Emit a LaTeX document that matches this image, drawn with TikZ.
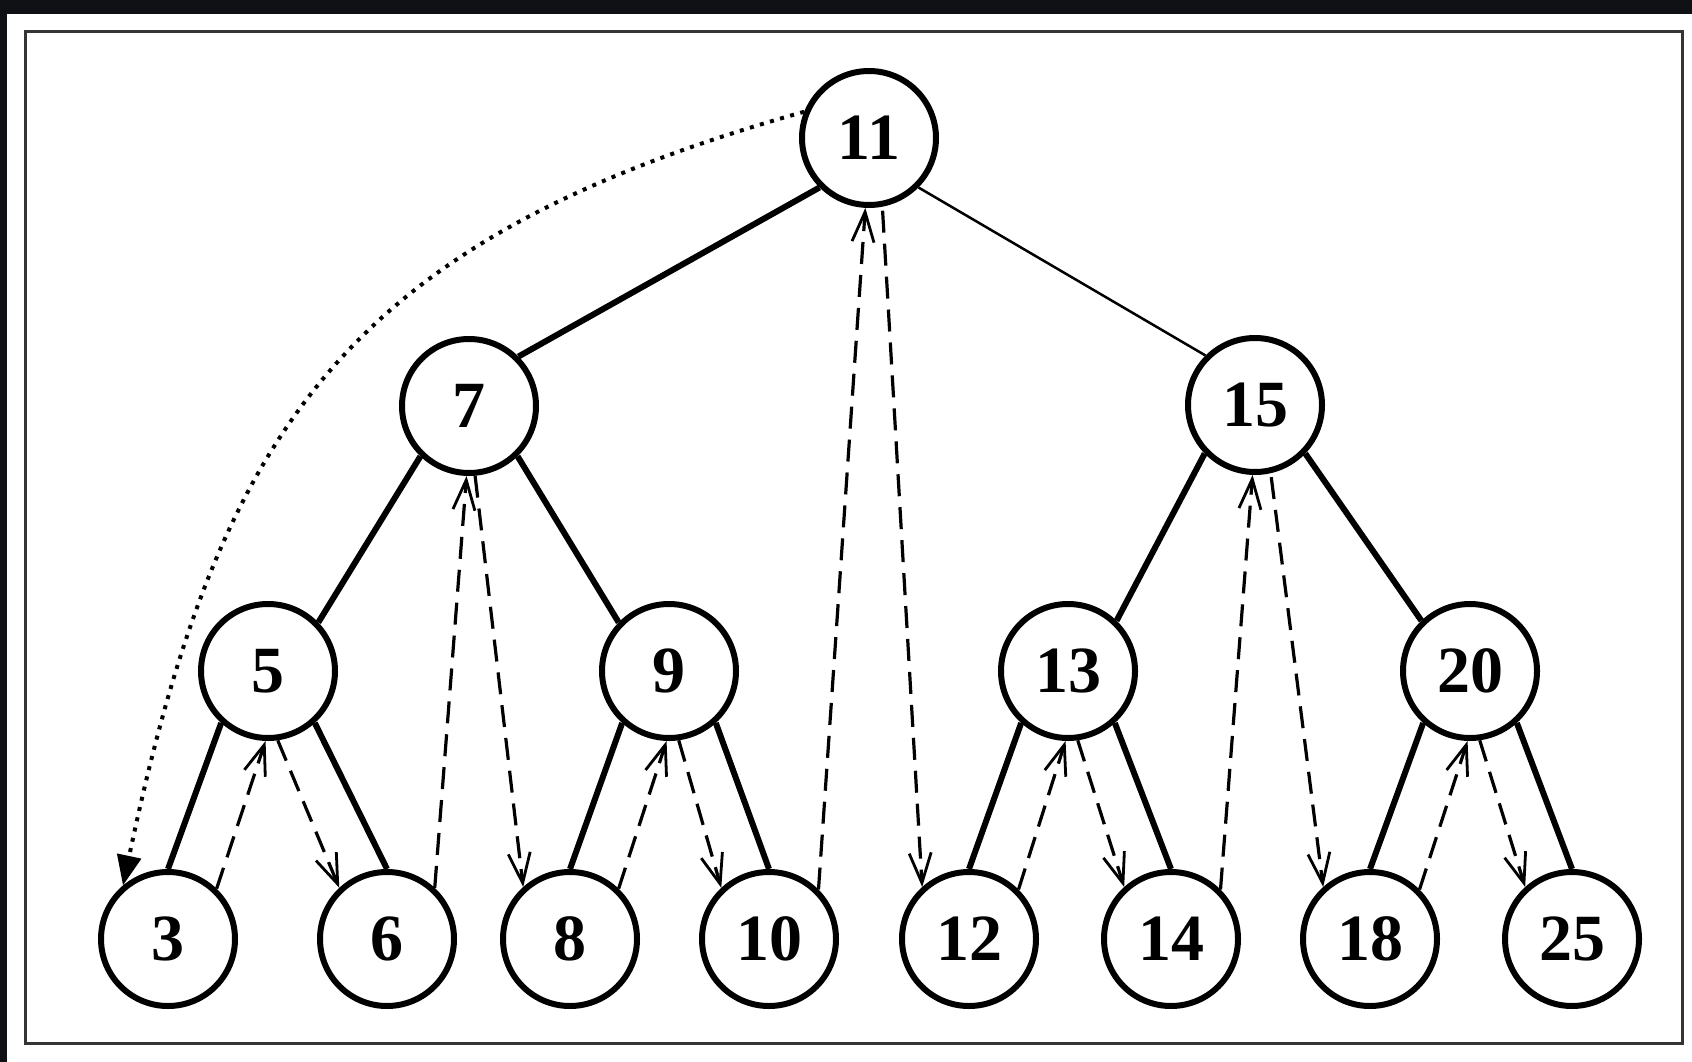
\documentclass[tikz,border=0pt]{standalone}
\usepackage{fontspec}
\setmainfont{Liberation Serif}
\usetikzlibrary{arrows.meta}
\definecolor{darkband}{HTML}{101114}
\definecolor{framecol}{HTML}{353535}
\begin{document}
\begin{tikzpicture}[x=1pt,y=-1pt,
  vtx/.style={circle,draw,line width=6pt,minimum size=134pt,inner sep=0pt,
    font=\fontsize{66}{66}\selectfont\bfseries},
  tedge/.style={line width=6pt},
  thinedge/.style={line width=2.5pt},
  thread/.style={line width=3.2pt,dash pattern=on 22pt off 11pt,
    -{Straight Barb[length=30pt,width=22pt,line width=2.8pt]}},
  dotline/.style={line width=4pt,dash pattern=on 4pt off 6.5pt,
    -{Triangle[length=30pt,width=24pt]}},
  framebox/.style={draw=framecol,line width=3pt}]
\useasboundingbox (0,0) rectangle (1692,1062);
\fill[darkband] (0,0) rectangle (1692,14);
\fill[darkband] (0,0) rectangle (7,1062);
\draw[framebox] (25,32) rectangle (1682,1043);
% nodes
\node[vtx] (n11) at (869,138) {11};
\node[vtx] (n7)  at (469,406) {7};
\node[vtx] (n15) at (1255,405) {15};
\node[vtx] (n5)  at (268,671) {5};
\node[vtx] (n9)  at (669,671) {9};
\node[vtx] (n13) at (1068,671) {13};
\node[vtx] (n20) at (1470,671) {20};
\node[vtx] (n3)  at (168,939) {3};
\node[vtx] (n6)  at (387,939) {6};
\node[vtx] (n8)  at (570,939) {8};
\node[vtx] (n10) at (769,939) {10};
\node[vtx] (n12) at (969,939) {12};
\node[vtx] (n14) at (1171,939) {14};
\node[vtx] (n18) at (1370,939) {18};
\node[vtx] (n25) at (1572,939) {25};
% tree edges
\draw[tedge] (n11.225) -- (n7.45);
\draw[thinedge] (n11.315) -- (n15.135);
\draw[tedge] (n7.226) -- (n5.44);
\draw[tedge] (n7.314) -- (n9.136);
\draw[tedge] (n15.224) -- (n13.46);
\draw[tedge] (n15.316) -- (n20.134);
\draw[tedge] (n5.228) -- (n3.90);
\draw[tedge] (n5.312) -- (n6.90);
\draw[tedge] (n9.228) -- (n8.90);
\draw[tedge] (n9.312) -- (n10.90);
\draw[tedge] (n13.228) -- (n12.90);
\draw[tedge] (n13.312) -- (n14.90);
\draw[tedge] (n20.228) -- (n18.90);
\draw[tedge] (n20.312) -- (n25.90);
% threads
\draw[thread] (n3.46) -- (n5.268);
\draw[thread] (n5.278) -- (n6.133);
\draw[thread] (n6.47) -- (n7.268);
\draw[thread] (n7.275) -- (n8.132);
\draw[thread] (n8.46) -- (n9.268);
\draw[thread] (n9.278) -- (n10.133);
\draw[thread] (n10.45) -- (n11.267);
\draw[thread,shorten <=4pt] (n11.281) -- (n12.132);
\draw[thread] (n12.45) -- (n13.268);
\draw[thread] (n13.278) -- (n14.132);
\draw[thread] (n14.45) -- (n15.268);
\draw[thread,shorten <=4pt] (n15.283) -- (n18.132);
\draw[thread] (n18.45) -- (n20.268);
\draw[thread] (n20.278) -- (n25.132);
% dotted curve
\draw[dotline] (n11.158) .. controls +(-455,128) and +(97,-460) .. (n3.130);
\end{tikzpicture}
\end{document}
